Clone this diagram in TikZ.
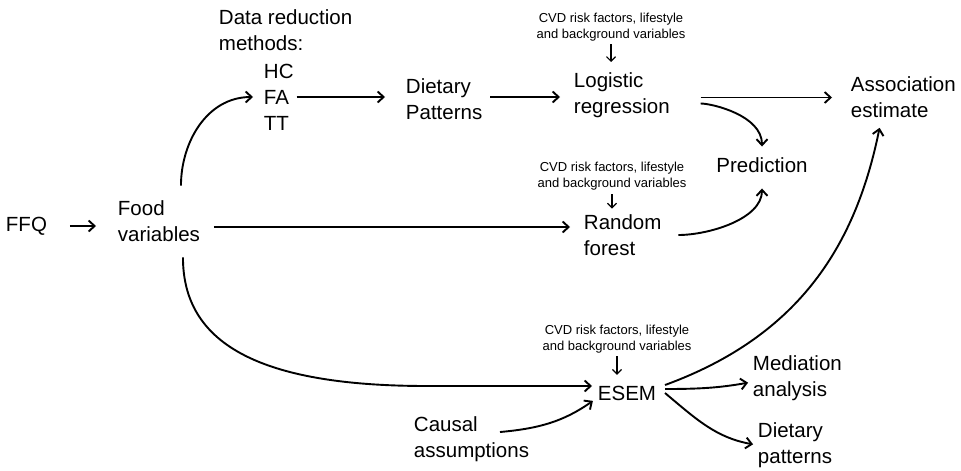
\documentclass[tikz,border=0pt]{standalone}
\usepackage{fontspec}
\setmainfont{Liberation Sans}
\usetikzlibrary{
  arrows.meta,
}

\begin{document}
\begin{tikzpicture}[
  x=1pt, y=-1pt,
  line width=1.9pt,
  >={Straight Barb[length=6pt,width=11pt]},
  font=\fontsize{20.5}{26}\selectfont,
  txt/.style={
     inner sep=0pt,
     align=left,
     anchor=west,
  },
  cvd/.style={
     inner sep=0pt,
     align=center,
     font=\fontsize{13}{16}\selectfont,
  },
  cvdarrow/.style={
     ->,
     line width=1.2pt,
     >={Straight Barb[length=4.5pt,width=9pt]},
  },
]
   \useasboundingbox (0,0) rectangle (961,471);

   \node[txt] (ffq) at (5,226) {FFQ};
   \node[txt] (food) at (117,221) {Food\\variables};
   \node[txt] (drm) at (218,30) {Data reduction\\methods:};
   \node[txt] (methods) at (263,97) {HC\\FA\\TT};
   \node[txt] (diet) at (405,99) {Dietary\\Patterns};
   \node[txt] (logit) at (573,95.5) {Logistic\\regression};
   \node[txt] (assoc) at (850,97.5) {Association\\estimate};
   \node (pred) [inner sep=0pt] at (762,165) {Prediction};
   \node[txt] (rf) at (583,235) {Random\\forest};
   \node[txt] (esem) at (597,393) {ESEM};
   \node[txt] (causal) at (413,439) {Causal\\assumptions};
   \node[txt] (med) at (752,378) {Mediation\\analysis};
   \node[txt] (dpat) at (757,445) {Dietary\\patterns};
   \node[cvd] (cvd1) at (611,27) {CVD risk factors, lifestyle\\and background variables};
   \node[cvd] (cvd2) at (612,176) {CVD risk factors, lifestyle\\and background variables};
   \node[cvd] (cvd3) at (617,339) {CVD risk factors, lifestyle\\and background variables};

   \draw[->, shorten <=22pt, shorten >=21pt] (ffq.east) -- (ffq.east -| food.west);
   \draw[->, shorten <=14pt, shorten >=10pt] ([xshift=22pt]food.north)
      to[out=90, in=180, looseness=1.1] (methods.west);
   \draw[->, shorten <=2pt, shorten >=20pt] (methods.east) -- (methods.east -| diet.west);
   \draw[->, shorten <=7pt, shorten >=13pt] (diet.east |- methods.east) -- (logit.west |- methods.east);
   \draw[->, shorten <=30pt, shorten >=18pt] (logit.east |- assoc.west) -- (assoc.west);
   \draw[->, shorten <=30pt, shorten >=10pt] ([yshift=-8pt]logit.east)
      to[out=0, in=90] (pred.north);
   \draw[->, shorten <=13pt, shorten >=13pt] ([yshift=-6pt]food.east) -- ([yshift=-6pt]food.east -| rf.west);
   \draw[->, shorten <=16pt, shorten >=15pt] (rf.east) to[out=0, in=-90] (pred.south);
   \draw[->, shorten <=15pt, shorten >=5pt] ([xshift=24pt]food.south)
      .. controls +(0,100) and +(-170,0) .. ([xshift=-170pt,yshift=7pt]esem.west)
      -- ([yshift=7pt]esem.west);
   \draw[->, shorten >=5pt] ([xshift=-30pt,yshift=7pt]causal.east)
      to[out=5, in=215] ([yshift=-5pt]esem.west);
   \draw[->, shorten >=9pt] ([xshift=8pt,yshift=8pt]esem.east)
      .. controls +(137,-50) and +(-25,123) .. ([xshift=-22pt]assoc.south);
   \draw[->, shorten >=4pt] ([xshift=8pt,yshift=4pt]esem.east)
      to[out=0, in=190] ([yshift=-4pt]med.west);
   \draw[->, shorten >=4pt] ([xshift=8pt]esem.east) to[out=-40, in=170] (dpat.west);

   \draw[cvdarrow, shorten <=2pt, shorten >=10pt] (cvd1.south) -- (cvd1.south |- logit.north);
   \draw[cvdarrow, shorten <=3pt, shorten >=5pt] (cvd2.south) -- (cvd2.south |- rf.north);
   \draw[cvdarrow, shorten <=2pt, shorten >=10pt] (cvd3.south) -- (cvd3.south |- esem.north);
\end{tikzpicture}
\end{document}
